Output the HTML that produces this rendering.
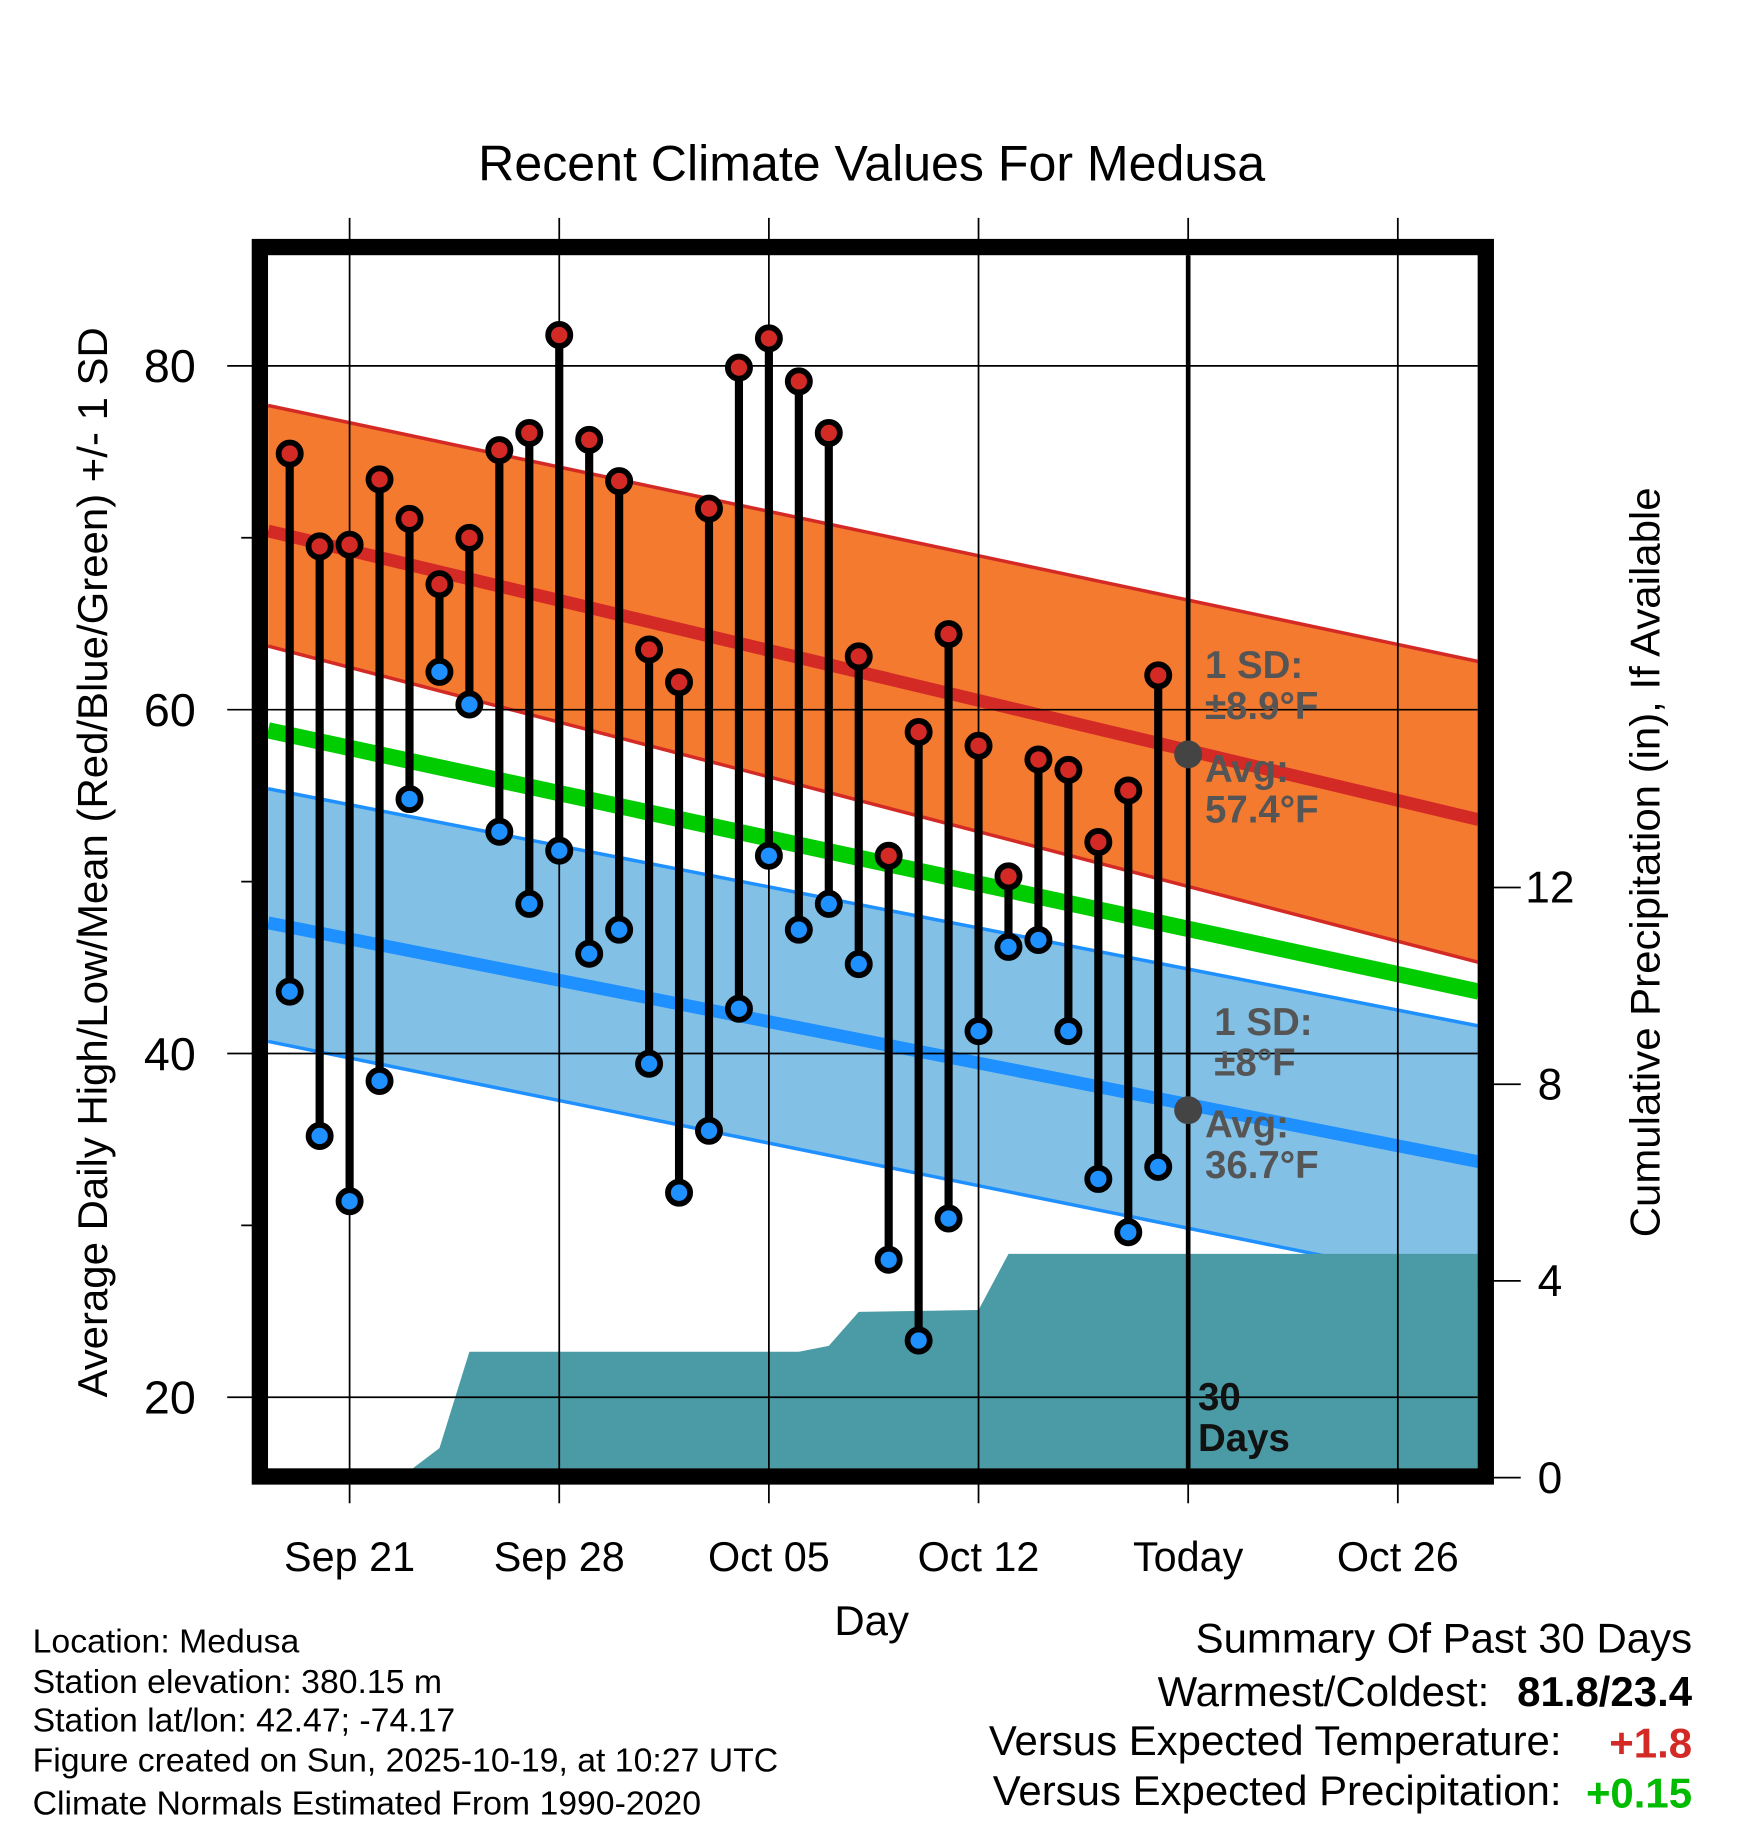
<!DOCTYPE html>
<html><head><meta charset="utf-8"><style>
html,body{margin:0;padding:0;background:#fff}
svg{display:block}
text{font-family:"Liberation Sans",Arial,sans-serif}
</style></head><body>
<svg id="chart" width="1748" height="1828" viewBox="0 0 1500 1568.65" xmlns="http://www.w3.org/2000/svg">
<text x="748" y="155" font-size="43" text-anchor="middle">Recent Climate Values For Medusa</text>
<g id="plot"></g>
<text transform="translate(92,740) rotate(-90)" font-size="36" text-anchor="middle">Average Daily High/Low/Mean (Red/Blue/Green) +/- 1 SD</text>
<text transform="translate(1424,740) rotate(-90)" font-size="36" text-anchor="middle">Cumulative Precipitation (in), If Available</text>
<text x="748" y="1403" font-size="36" text-anchor="middle">Day</text>
<g font-size="29">
<text x="28" y="1418">Location: Medusa</text>
<text x="28" y="1453">Station elevation: 380.15 m</text>
<text x="28" y="1486">Station lat/lon: 42.47; -74.17</text>
<text x="28" y="1520">Figure created on Sun, 2025-10-19, at 10:27 UTC</text>
<text x="28" y="1557">Climate Normals Estimated From 1990-2020</text>
</g>
<g font-size="36" text-anchor="end">
<text x="1452" y="1418">Summary Of Past 30 Days</text>
<text x="1278" y="1464">Warmest/Coldest:</text>
<text x="1452" y="1464" font-weight="bold">81.8/23.4</text>
<text x="1340" y="1506">Versus Expected Temperature:</text>
<text x="1452" y="1508" font-weight="bold" fill="#d42a26">+1.8</text>
<text x="1340" y="1549">Versus Expected Precipitation:</text>
<text x="1452" y="1551" font-weight="bold" fill="#00bb00">+0.15</text>
</g>
</svg>
<script>
const highs=[74.9,69.5,69.6,73.4,71.1,67.3,70.0,75.1,76.1,81.8,75.7,73.3,63.5,61.6,71.7,79.9,81.6,79.1,76.1,63.1,51.5,58.7,64.4,57.9,50.3,57.1,56.5,52.3,55.3,62.0];
const lows=[43.6,35.2,31.4,38.4,54.8,62.2,60.3,52.9,48.7,51.8,45.8,47.2,39.4,31.9,35.5,42.6,51.5,47.2,48.7,45.2,28.0,23.3,30.4,41.3,46.2,46.6,41.3,32.7,29.6,33.4];
const precipDays=[3.7,5,6,17,18,19,23,24,39.7];
const precipVals=[0,0.6,2.56,2.56,2.68,3.37,3.41,4.55,4.55];
const normDays=[-0.72,39.7];
const hiMean=[70.4,53.6], hiUp=[77.7,62.8], hiLo=[63.7,45.3];
const avgMean=[58.8,43.6];
const loMean=[47.6,33.7], loUp=[55.4,41.6], loLo=[40.7,26.4];
const xTickDays=[2,9,16,23,30,37];
const xTickLabels=["Sep 21","Sep 28","Oct 05","Oct 12","Today","Oct 26"];
const yTicks=[20,40,60,80];
const yMinor=[30,50,70];
const pTicks=[0,4,8,12];

const X=d=>248.6+25.7*d;
const Y=v=>314+(80-v)*14.75;
const P=v=>1268-v*42.2;
const NS="http://www.w3.org/2000/svg";
const plot=document.getElementById('plot');
function mk(tag,attrs,parent){const e=document.createElementNS(NS,tag);for(const k in attrs)e.setAttribute(k,attrs[k]);(parent||plot).appendChild(e);return e;}
const L=230,R=1268,T=219,B=1260;
const defs=mk('defs',{});
const cp=mk('clipPath',{id:'clip'},defs);mk('rect',{x:L,y:T,width:R-L,height:B-T},cp);
const g=mk('g',{'clip-path':'url(#clip)'});


function band(up,lo,fill,name){const pts=[[X(normDays[0]),Y(up[0])],[X(normDays[1]),Y(up[1])],[X(normDays[1]),Y(lo[1])],[X(normDays[0]),Y(lo[0])]];
 const e=mk('polygon',{points:pts.map(p=>p.join(',')).join(' '),fill:fill},g);
 
 }
function line(v,stroke,w,name){const e=mk('line',{x1:X(normDays[0]),y1:Y(v[0]),x2:X(normDays[1]),y2:Y(v[1]),stroke:stroke,'stroke-width':w},g);
 
 }
band(hiUp,hiLo,'#f47a30','high-sd-band');
line(hiUp,'#d42a26',3,'high-upper-line');line(hiLo,'#d42a26',3,'high-lower-line');
band(loUp,loLo,'#82c0e6','low-sd-band');
line(loUp,'#1e90ff',3,'low-upper-line');line(loLo,'#1e90ff',3,'low-lower-line');
line(hiMean,'#d42a26',11,'normal-high-line');
line(avgMean,'#00cc00',14,'normal-mean-line');
line(loMean,'#1e90ff',11,'normal-low-line');
let pp=[[X(-1),P(0)]];precipDays.forEach((d,i)=>pp.push([X(d),P(precipVals[i])]));pp.push([X(40),P(0)]);
const pa=mk('polygon',{points:pp.map(p=>p.join(',')).join(' '),fill:'#4a9ba5'},g);


xTickDays.forEach((d,i)=>{const x=X(d);
 const gl=mk('line',{x1:x,y1:187,x2:x,y2:1290,stroke:'#000','stroke-width':1.5});
 
 
 const t=mk('text',{x:x,y:1348,'font-size':35.5,'text-anchor':'middle'});t.textContent=xTickLabels[i];
 
 });
yTicks.forEach(v=>{const y=Y(v);
 const gl=mk('line',{x1:195,y1:y,x2:R,y2:y,stroke:'#000','stroke-width':1.5});
 
 
 const t=mk('text',{x:168,y:y+14,'font-size':40,'text-anchor':'end'});t.textContent=v;
 
 });
yMinor.forEach(v=>{const e=mk('line',{x1:207,y1:Y(v),x2:222,y2:Y(v),stroke:'#000','stroke-width':1.5});
 
 });
pTicks.forEach(v=>{const y=P(v);
 const e=mk('line',{x1:1275,y1:y,x2:1305,y2:y,stroke:'#000','stroke-width':1.5});
 
 
 const t=mk('text',{x:1330,y:y+13,'font-size':38,'text-anchor':'middle'});t.textContent=v;
 
 });
const tl=mk('line',{x1:X(30),y1:T,x2:X(30),y2:B,stroke:'#000','stroke-width':4});


highs.forEach((h,i)=>{const x=X(i);
 const s=mk('line',{x1:x,y1:Y(h),x2:x,y2:Y(lows[i]),stroke:'#000','stroke-width':7});
 
 
 const c1=mk('circle',{cx:x,cy:Y(h),r:9.5,fill:'#d42a26',stroke:'#000','stroke-width':5});
 
 
 const c2=mk('circle',{cx:x,cy:Y(lows[i]),r:9.5,fill:'#1e90ff',stroke:'#000','stroke-width':5});
 
 });
const a1=mk('circle',{cx:X(30),cy:Y(57.4),r:12,fill:'#444'});


const a2=mk('circle',{cx:X(30),cy:Y(36.7),r:12,fill:'#444'});


function ann(lines,x,y,name,col){const t=mk('text',{x:x,y:y,'font-size':33,'font-weight':'bold',fill:col||'#555'});
 
 
 lines.forEach((s,i)=>{const ts=mk('tspan',{x:x,dy:i?35:0},t);ts.textContent=s;});}
ann(['1 SD:','±8.9°F'],1034,582,'high-sd-label');
ann(['Avg:','57.4°F'],1034,671,'high-avg-label');
ann(['1 SD:','±8°F'],1042,888,'low-sd-label');
ann(['Avg:','36.7°F'],1034,976,'low-avg-label');
ann(['30','Days'],1028,1210,'period-label','#111');
const fr=mk('rect',{x:223,y:212,width:1052,height:1055,fill:'none',stroke:'#000','stroke-width':14});


</script>
</body></html>
